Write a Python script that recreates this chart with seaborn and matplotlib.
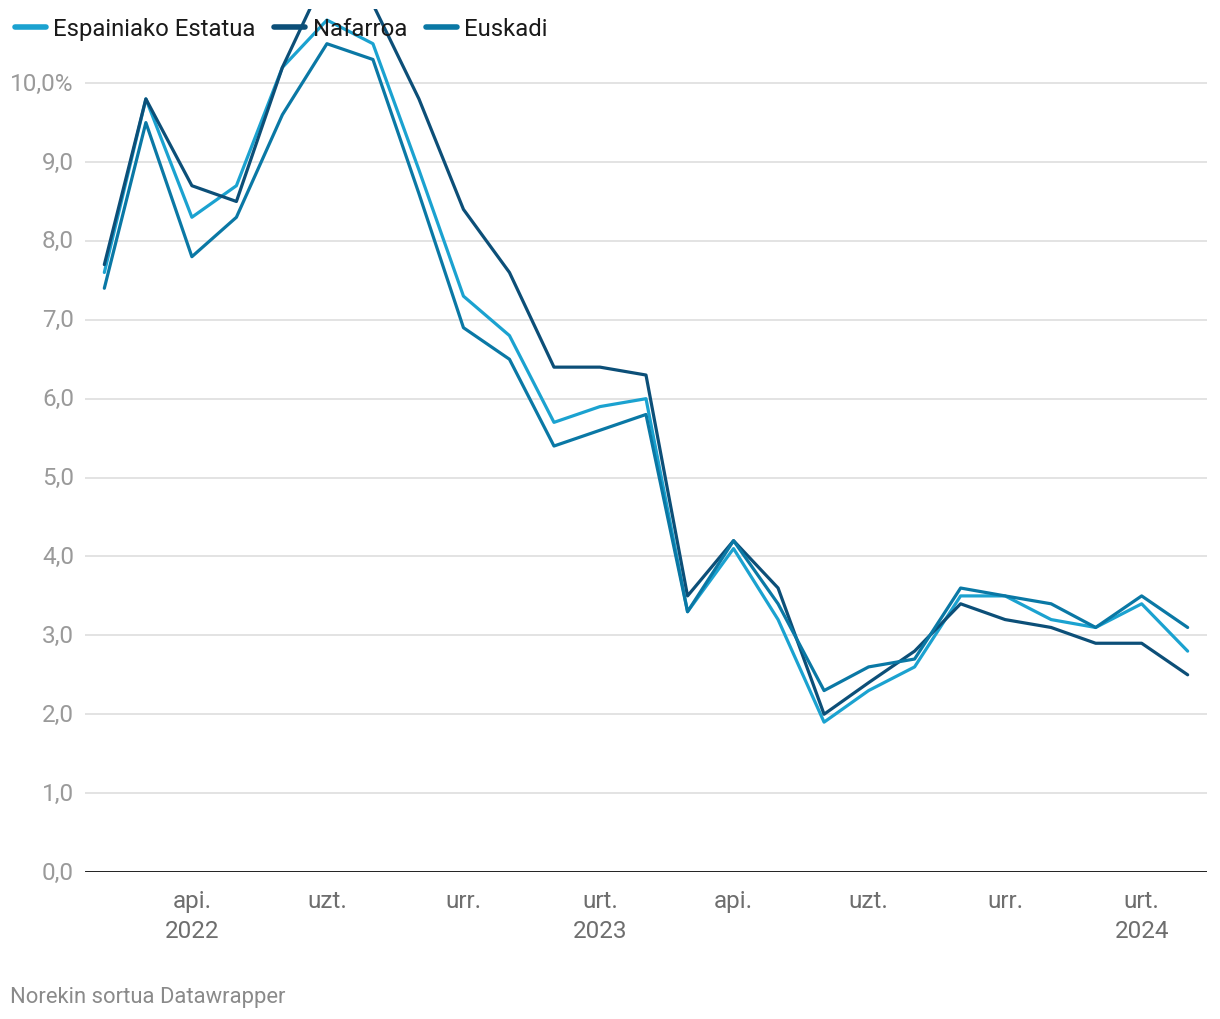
import pandas as pd
import matplotlib.pyplot as plt
import seaborn as sns

# monthly inflation, Feb 2022 - Feb 2024
months = pd.date_range("2022-02-01", periods=25, freq="MS")

espainia = [7.6, 9.8, 8.3, 8.7, 10.2, 10.8, 10.5, 8.9, 7.3, 6.8, 5.7, 5.9, 6.0,
            3.3, 4.1, 3.2, 1.9, 2.3, 2.6, 3.5, 3.5, 3.2, 3.1, 3.4, 2.8]
nafarroa = [7.7, 9.8, 8.7, 8.5, 10.2, 11.4, 11.0, 9.8, 8.4, 7.6, 6.4, 6.4, 6.3,
            3.5, 4.2, 3.6, 2.0, 2.4, 2.8, 3.4, 3.2, 3.1, 2.9, 2.9, 2.5]
euskadi = [7.4, 9.5, 7.8, 8.3, 9.6, 10.5, 10.3, 8.6, 6.9, 6.5, 5.4, 5.6, 5.8,
           3.3, 4.2, 3.4, 2.3, 2.6, 2.7, 3.6, 3.5, 3.4, 3.1, 3.5, 3.1]

series_names = ["Espainiako Estatua", "Nafarroa", "Euskadi"]
colors = ["#1ba2d0", "#0c4f78", "#0a78a5"]

tick_dates = ["2022-04-01", "2022-07-01", "2022-10-01", "2023-01-01",
              "2023-04-01", "2023-07-01", "2023-10-01", "2024-01-01"]
tick_labels = ["api.\n2022", "uzt.", "urr.", "urt.\n2023",
               "api.", "uzt.", "urr.", "urt.\n2024"]
y_ticks = [0, 1, 2, 3, 4, 5, 6, 7, 8, 9, 10]
y_labels = ["0,0", "1,0", "2,0", "3,0", "4,0", "5,0", "6,0", "7,0", "8,0", "9,0", "10,0%"]


def build_frame():
    parts = []
    for name, vals in zip(series_names, [espainia, nafarroa, euskadi]):
        parts.append(pd.DataFrame({"date": months, "value": vals, "series": name}))
    return pd.concat(parts, ignore_index=True)


def main():
    sns.set_theme(style="white")
    plt.rcParams["font.family"] = ["Roboto", "DejaVu Sans"]

    df = build_frame()
    fig = plt.figure(figsize=(12.2, 10.2), dpi=100)
    ax = fig.add_axes([0.0697, 0.1441, 0.9196, 0.8461])

    sns.lineplot(data=df, x="date", y="value", hue="series", hue_order=series_names,
                 palette=colors, linewidth=2.3, ax=ax, zorder=3)

    pad = pd.Timedelta(days=13)
    ax.set_xlim(months[0] - pad, months[-1] + pad)
    ax.set_ylim(0, 10.94)

    ax.set_yticks(y_ticks)
    ax.set_yticklabels(y_labels)
    ax.set_xticks(pd.to_datetime(tick_dates))
    ax.set_xticklabels(tick_labels, linespacing=1.4)
    ax.tick_params(axis="y", length=0, pad=8, labelsize=17.5, labelcolor="#9a9a9a")
    ax.tick_params(axis="x", length=0, pad=12, labelsize=17.5, labelcolor="#6e6e6e")
    for lbl in ax.get_yticklabels():
        lbl.set_verticalalignment("center")

    ax.grid(axis="y", color="#e3e3e3", linewidth=1.4, zorder=0)
    ax.axhline(0, color="#111111", linewidth=2, zorder=4)
    for s in ax.spines.values():
        s.set_visible(False)
    ax.set_xlabel("")
    ax.set_ylabel("")

    leg = ax.legend(loc="center left", bbox_to_anchor=(0.012, 0.9706),
                    bbox_transform=fig.transFigure, ncol=3, frameon=False,
                    fontsize=17.2, handlelength=1.3, handletextpad=0.3,
                    columnspacing=0.8, borderaxespad=0, borderpad=0)
    for line in leg.get_lines():
        line.set_linewidth(4)
        line.set_solid_capstyle("round")
    for t in leg.get_texts():
        t.set_color("#1a1a1a")
    leg.set_zorder(5)

    fig.text(0.008, 0.022, "Norekin sortua Datawrapper", fontsize=15.8, color="#8a8a8a",
             ha="left", va="center")

    fig.savefig("out.png", dpi=100)


if __name__ == "__main__":
    main()
